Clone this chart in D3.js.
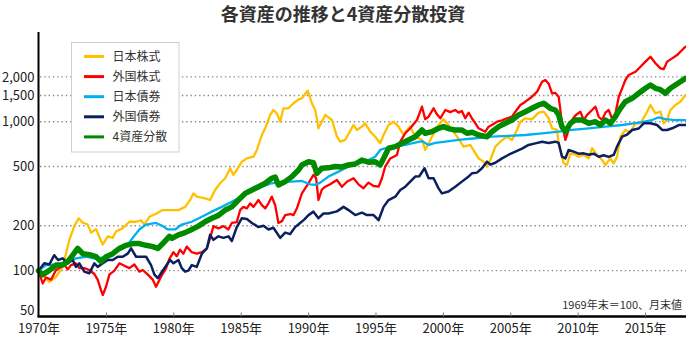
<!DOCTYPE html>
<html><head><meta charset="utf-8">
<script src="https://cdn.jsdelivr.net/npm/d3@7"></script>
<style>
body{margin:0;background:#fff;}
svg text{font-family:"Noto Sans CJK JP","Noto Sans",sans-serif;}
</style></head><body>
<svg id="c" width="686" height="350"></svg>
<script>
// ---- data (1969年末 = 100) ----
const titleText = "各資産の推移と4資産分散投資";
const noteText = "1969年末＝100、月末値";
const seriesNames = ["日本株式", "外国株式", "日本債券", "外国債券", "4資産分散"];
const yTicks = [50, 100, 200, 500, 1000, 1500, 2000];
const xTicks = [1970, 1975, 1980, 1985, 1990, 1995, 2000, 2005, 2010, 2015];

const jpStock = [[1970.00,100],[1970.80,84],[1971.30,91],[1971.80,106],[1972.29,161],[1972.66,199],[1972.98,225],[1973.28,210],[1973.65,204],[1973.90,180],[1974.27,190],[1974.64,158],[1974.77,150],[1975.14,170],[1975.51,166],[1975.75,183],[1976.25,193],[1976.74,213],[1977.24,213],[1977.61,218],[1977.85,204],[1978.23,230],[1978.72,241],[1979.22,255],[1979.71,255],[1980.38,255],[1980.88,268],[1981.25,298],[1981.49,330],[1981.74,314],[1982.36,306],[1982.73,298],[1983.10,348],[1983.47,386],[1983.85,417],[1984.22,487],[1984.46,439],[1984.71,474],[1985.09,539],[1985.46,567],[1985.95,582],[1986.20,646],[1986.57,814],[1986.82,903],[1987.19,1110],[1987.43,1198],[1987.68,1138],[1987.93,1000],[1988.17,1230],[1988.54,1230],[1988.92,1330],[1989.29,1413],[1989.54,1435],[1989.97,1614],[1990.28,1330],[1990.53,1198],[1990.77,903],[1991.02,1000],[1991.27,1110],[1991.77,1026],[1992.14,793],[1992.38,734],[1992.75,754],[1993.37,950],[1993.62,880],[1993.99,926],[1994.24,975],[1994.61,857],[1994.98,793],[1995.35,716],[1995.60,814],[1995.97,950],[1996.34,1000],[1996.71,926],[1997.08,814],[1997.33,880],[1997.58,926],[1997.95,793],[1998.45,754],[1998.69,646],[1999.19,793],[1999.68,950],[2000.05,1037],[2000.42,950],[2001.05,793],[2001.54,680],[2002.03,698],[2002.65,567],[2003.02,539],[2003.27,500],[2003.52,553],[2003.89,680],[2004.26,734],[2004.76,793],[2005.13,754],[2005.50,880],[2005.75,1000],[2006.12,1054],[2006.61,1037],[2007.10,1150],[2007.48,1167],[2007.85,1054],[2008.10,903],[2008.47,880],[2008.59,716],[2008.96,526],[2009.21,512],[2009.46,613],[2009.83,600],[2010.07,582],[2010.45,600],[2010.82,567],[2011.07,663],[2011.44,600],[2011.81,553],[2012.06,512],[2012.43,567],[2012.67,526],[2012.92,580],[2013.17,793],[2013.54,880],[2013.91,850],[2014.28,975],[2014.65,975],[2015.03,1110],[2015.40,1294],[2015.77,1138],[2016.14,1170],[2016.38,975],[2016.64,1030],[2016.88,1198],[2017.25,1294],[2017.62,1362],[2018.00,1510]];

const fStock = [[1970.00,100],[1970.31,82],[1970.56,90],[1970.93,87],[1971.30,101],[1971.92,109],[1972.17,102],[1972.41,109],[1972.78,112],[1973.03,104],[1973.40,104],[1973.77,101],[1974.14,95],[1974.39,87],[1974.64,74],[1974.77,68.6],[1975.01,78],[1975.26,94],[1975.63,100],[1976.00,112],[1976.37,108],[1976.74,104],[1977.11,110],[1977.48,98.5],[1977.74,101],[1978.11,94],[1978.48,87],[1978.72,78],[1979.09,91],[1979.47,104],[1979.71,120],[1980.01,133],[1980.26,125],[1980.50,138],[1980.75,130],[1981.00,145],[1981.37,133],[1981.74,130],[1982.12,133],[1982.49,141],[1982.73,165],[1982.98,199],[1983.35,192],[1983.72,199],[1984.09,189],[1984.34,209],[1984.71,212],[1984.96,255],[1985.20,268],[1985.46,262],[1985.70,283],[1985.95,268],[1986.32,298],[1986.57,275],[1986.82,262],[1987.06,283],[1987.31,314],[1987.56,275],[1987.80,209],[1988.06,215],[1988.30,236],[1988.67,240],[1988.92,236],[1989.17,262],[1989.54,330],[1990.03,386],[1990.40,439],[1990.60,417],[1990.77,298],[1991.02,350],[1991.27,366],[1991.64,380],[1992.14,406],[1992.51,366],[1992.88,395],[1993.37,417],[1993.74,380],[1994.11,357],[1994.48,390],[1994.86,370],[1995.23,366],[1995.48,417],[1995.72,500],[1996.10,567],[1996.59,598],[1996.84,734],[1997.21,836],[1997.58,903],[1998.08,1026],[1998.45,1261],[1998.69,1040],[1998.94,1080],[1999.31,1230],[1999.56,1120],[1999.81,1054],[2000.18,1198],[2000.55,1160],[2000.92,1198],[2001.16,1150],[2001.41,1180],[2001.66,1054],[2001.91,1150],[2002.16,1050],[2002.41,975],[2002.65,903],[2002.90,880],[2003.15,857],[2003.39,926],[2003.64,950],[2004.02,1000],[2004.39,1020],[2004.76,1054],[2005.13,1080],[2005.38,1167],[2005.75,1294],[2006.12,1362],[2006.61,1471],[2006.99,1590],[2007.36,1856],[2007.60,1905],[2007.85,1800],[2008.10,1551],[2008.34,1560],[2008.59,1471],[2008.84,975],[2009.09,754],[2009.33,880],[2009.58,1026],[2009.83,1100],[2010.20,1167],[2010.45,1026],[2010.70,1110],[2011.07,1198],[2011.32,1261],[2011.56,1080],[2011.81,1026],[2012.06,1150],[2012.30,1198],[2012.55,1050],[2012.80,1130],[2013.05,1471],[2013.30,1675],[2013.54,1905],[2013.79,2060],[2014.29,2165],[2014.66,2340],[2015.03,2530],[2015.40,2730],[2015.77,2470],[2016.14,2280],[2016.38,2250],[2016.64,2530],[2017.01,2660],[2017.38,2800],[2017.75,3030],[2018.00,3190]];

const jpBond = [[1970.00,100],[1970.56,109],[1971.30,110],[1972.04,112],[1972.78,121],[1973.53,124],[1974.27,120],[1975.01,124],[1975.75,134],[1976.50,145],[1976.99,166],[1977.48,189],[1977.98,204],[1978.72,209],[1979.22,199],[1979.59,189],[1980.13,189],[1980.63,204],[1981.37,213],[1982.12,230],[1982.86,249],[1983.60,268],[1984.34,290],[1985.09,314],[1985.83,340],[1986.57,366],[1987.31,386],[1988.06,396],[1988.80,396],[1989.54,400],[1990.16,380],[1990.53,376],[1990.90,390],[1991.51,428],[1992.26,462],[1993.00,500],[1993.74,526],[1994.48,553],[1994.98,582],[1995.35,646],[1995.72,663],[1996.47,680],[1997.21,698],[1997.95,723],[1998.47,740],[1998.94,698],[1999.44,720],[2000.18,734],[2001.16,754],[2002.41,774],[2003.64,793],[2004.88,802],[2006.12,814],[2007.36,836],[2008.59,857],[2009.58,880],[2010.82,903],[2012.06,926],[2013.30,950],[2014.53,985],[2015.52,1026],[2016.01,1070],[2016.51,1040],[2017.25,1026],[2018.00,1026]];

const fBond = [[1970.00,100],[1970.43,112],[1970.80,110],[1971.17,127],[1971.45,118],[1971.80,121],[1972.17,112],[1972.54,118],[1972.78,106],[1973.03,112],[1973.40,98.5],[1973.77,96],[1974.14,112],[1974.39,106],[1974.77,112],[1975.14,118],[1975.51,118],[1975.88,124],[1976.25,124],[1976.62,130],[1976.87,141],[1977.24,124],[1977.61,124],[1977.98,124],[1978.35,109],[1978.60,94],[1978.85,89],[1979.09,96],[1979.34,104],[1979.59,112],[1979.76,118],[1980.01,112],[1980.38,118],[1980.63,104],[1980.88,98.5],[1981.12,100],[1981.37,109],[1981.74,106],[1982.12,130],[1982.49,141],[1982.73,174],[1982.98,161],[1983.35,170],[1983.72,166],[1984.09,170],[1984.34,158],[1984.71,196],[1985.09,225],[1985.46,222],[1985.83,209],[1986.32,196],[1986.69,200],[1987.06,189],[1987.43,194],[1987.93,166],[1988.30,180],[1988.67,176],[1989.04,196],[1989.41,209],[1989.71,220],[1990.03,236],[1990.40,249],[1990.77,225],[1991.14,242],[1991.51,242],[1992.14,250],[1992.63,268],[1993.00,255],[1993.50,236],[1993.99,245],[1994.37,236],[1994.86,236],[1995.23,218],[1995.60,268],[1995.97,298],[1996.47,314],[1996.84,348],[1997.21,366],[1997.58,396],[1997.95,428],[1998.25,430],[1998.64,487],[1998.94,417],[1999.31,417],[1999.68,357],[1999.93,330],[2000.42,340],[2000.92,366],[2001.41,396],[2001.79,420],[2002.16,450],[2002.53,455],[2002.90,487],[2003.27,539],[2003.52,515],[2003.89,530],[2004.39,567],[2004.88,600],[2005.38,629],[2005.87,660],[2006.36,698],[2006.86,715],[2007.36,734],[2007.85,720],[2008.34,734],[2008.59,720],[2008.84,582],[2009.09,567],[2009.33,646],[2009.70,630],[2010.07,610],[2010.45,613],[2010.82,600],[2011.19,610],[2011.56,582],[2011.93,595],[2012.30,580],[2012.67,598],[2012.92,680],[2013.30,793],[2013.67,820],[2014.04,880],[2014.53,900],[2014.90,975],[2015.40,975],[2015.89,950],[2016.27,880],[2016.64,880],[2017.01,903],[2017.50,950],[2018.00,950]];

const mix = [[1970.00,100],[1970.31,94],[1970.78,100],[1971.30,109],[1971.74,109],[1972.17,115],[1972.54,127],[1972.91,141],[1973.28,130],[1973.77,128],[1974.27,124],[1974.64,115],[1975.01,124],[1975.51,130],[1976.00,141],[1976.50,148],[1976.99,152],[1977.48,152],[1977.98,148],[1978.48,145],[1978.85,141],[1979.22,152],[1979.71,170],[1979.91,165],[1980.38,174],[1980.88,180],[1981.37,189],[1981.86,199],[1982.36,213],[1982.86,225],[1983.35,235],[1983.85,255],[1984.34,268],[1984.83,298],[1985.33,330],[1985.83,348],[1986.32,366],[1986.82,386],[1987.31,417],[1987.56,425],[1987.80,376],[1988.30,396],[1988.80,428],[1989.29,474],[1989.54,512],[1990.03,539],[1990.40,530],[1990.65,450],[1991.02,487],[1991.49,490],[1992.01,500],[1992.51,497],[1993.00,512],[1993.50,520],[1993.99,553],[1994.48,535],[1994.98,539],[1995.35,512],[1995.60,567],[1995.97,663],[1996.47,680],[1996.96,716],[1997.45,754],[1997.95,793],[1998.45,880],[1998.69,836],[1999.19,857],[1999.68,903],[2000.05,926],[2000.48,895],[2000.92,880],[2001.41,880],[2001.79,836],[2002.18,850],[2002.65,814],[2003.27,793],[2003.64,857],[2004.14,926],[2004.63,975],[2005.13,1026],[2005.62,1110],[2006.12,1167],[2006.61,1230],[2007.10,1294],[2007.48,1330],[2007.97,1230],[2008.34,1198],[2008.59,1110],[2008.84,926],[2009.09,857],[2009.46,975],[2009.83,1026],[2010.32,1026],[2010.82,975],[2011.32,1000],[2011.68,950],[2012.06,1026],[2012.43,975],[2012.80,1080],[2013.17,1230],[2013.54,1362],[2014.04,1435],[2014.53,1551],[2015.03,1675],[2015.40,1763],[2015.77,1675],[2016.14,1640],[2016.51,1551],[2016.88,1675],[2017.25,1763],[2017.62,1856],[2018.00,1954]];

const seriesData = [jpStock, fStock, jpBond, fBond, mix];
// styles
const seriesColors = ["#FFC000", "#FF0000", "#00B0F0", "#0C1F5E", "#008A00"];
const seriesWidths = [2.3, 2.3, 2.3, 2.5, 5.5];

// ---- drawing ----
const svg = d3.select('#c');
const x = d3.scaleLinear().domain([1970, 2018]).range([38.5, 685.5]);
const y = d3.scaleLog().domain([50, 4000]).range([315.5, 32]);

// title
svg.append('text').attr('x', 343).attr('y', 21).attr('text-anchor', 'middle')
  .attr('font-size', 18).attr('font-weight', 'bold').attr('fill', '#333').text(titleText);

// gridlines
svg.append('g').selectAll('line').data(yTicks.filter(v => v > 50)).join('line')
  .attr('x1', 40).attr('x2', 686).attr('y1', d => y(d)).attr('y2', d => y(d))
  .attr('stroke', '#8a8a8a').attr('stroke-width', 1.4).attr('stroke-dasharray', '1.4,2.9');

// series lines
const line = d3.line().x(d => x(d[0])).y(d => y(d[1]));
seriesData.forEach((data, i) => {
  svg.append('path').datum(data)
    .attr('fill', 'none').attr('stroke', seriesColors[i]).attr('stroke-width', seriesWidths[i])
    .attr('stroke-linejoin', 'round').attr('stroke-linecap', 'round').attr('d', line);
});

// y axis
const ya = svg.append('g').attr('transform', 'translate(38.5,0)')
  .call(d3.axisLeft(y).tickValues(yTicks).tickFormat(d3.format(',')).tickSize(0).tickPadding(4).tickSizeOuter(0));
ya.select('.domain').attr('stroke', '#000').attr('stroke-width', 2).attr('d', 'M0,317V32');
ya.selectAll('text').attr('font-size', 13).attr('fill', '#222')
  .attr('font-family', '"Noto Sans CJK JP","Noto Sans",sans-serif')
  .attr('y', d => d === 50 ? -5 : 0);

// x axis
const xa = svg.append('g').attr('transform', 'translate(0,316.5)')
  .call(d3.axisBottom(x).tickValues(xTicks).tickFormat(d => d + '年').tickSizeInner(-4).tickSizeOuter(0).tickPadding(7));
xa.select('.domain').attr('stroke', '#000').attr('stroke-width', 2.5).attr('d', 'M37.5,0H686');
xa.selectAll('.tick line').attr('stroke', '#777').attr('stroke-width', 1)
  .attr('opacity', d => d === 1970 ? 0 : 1);
xa.selectAll('text').attr('font-size', 13).attr('fill', '#222')
  .attr('font-family', '"Noto Sans CJK JP","Noto Sans",sans-serif');

// note
svg.append('text').attr('x', 682).attr('y', 309).attr('text-anchor', 'end')
  .attr('font-size', 11).attr('fill', '#333').text(noteText);

// legend
const lg = svg.append('g');
lg.append('rect').attr('x', 71.5).attr('y', 42.5).attr('width', 107.5).attr('height', 109.5)
  .attr('fill', '#fff').attr('stroke', '#cfcfcf').attr('stroke-width', 1);
seriesNames.forEach((name, i) => {
  const yy = 56.5 + i * 20.1;
  lg.append('line').attr('x1', 84).attr('x2', 104).attr('y1', yy).attr('y2', yy)
    .attr('stroke', seriesColors[i]).attr('stroke-width', 3);
  lg.append('text').attr('x', 112.5).attr('y', yy).attr('dy', '0.35em')
    .attr('font-size', 12).attr('fill', '#333').text(name);
});
</script>
</body></html>
